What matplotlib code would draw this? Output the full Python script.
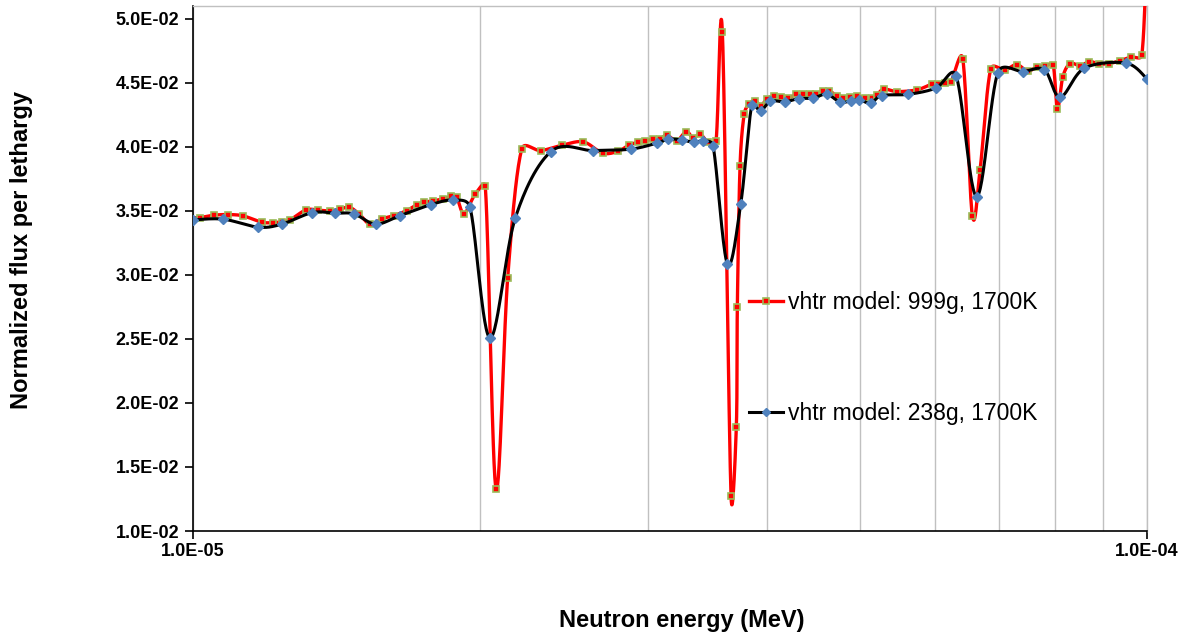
import numpy as np
import matplotlib
matplotlib.use("Agg")
import matplotlib.pyplot as plt
from matplotlib.lines import Line2D
from matplotlib.ticker import FixedLocator, LogLocator, NullFormatter, FuncFormatter

# energies in units of 1e-5 MeV, flux per lethargy
e_999 = [1.0000, 1.0170, 1.0520, 1.0889, 1.1289, 1.1802, 1.2139, 1.2388, 1.2639, 1.3137, 1.3533,
         1.3920, 1.4260, 1.4583, 1.4939, 1.5329, 1.5769, 1.6245, 1.6749, 1.7159, 1.7464,
         1.7848, 1.8284, 1.8662, 1.8898, 1.9234, 1.9752, 2.0248, 2.0778, 2.1374, 2.2108,
         2.3146, 2.4349, 2.5652, 2.6881, 2.7913, 2.8664, 2.9258, 2.9792, 3.0351, 3.0905,
         3.1394, 3.2137, 3.2891, 3.3451, 3.4000, 3.4621, 3.5339, 3.5880, 3.6642, 3.7114,
         3.7204, 3.7447, 3.7829, 3.8288, 3.8828, 3.9376, 3.9939, 4.0620, 4.1342, 4.2073,
         4.2862, 4.3624, 4.4336, 4.4982, 4.5715, 4.6449, 4.7287, 4.8047, 4.8830, 4.9626,
         5.0630, 5.1456, 5.2080, 5.3006, 5.4698, 5.7405, 5.9478, 6.0434, 6.1419, 6.2313,
         6.4097, 6.5602, 6.6834, 6.8583, 7.1000, 7.3033, 7.4964, 7.6759, 7.8259, 7.9726,
         8.0557, 8.1614, 8.3064, 8.5094, 8.7025, 8.9087, 9.1327, 9.3787, 9.6165, 9.8753,
         10.000]
f_999 = [0.034453, 0.034477, 0.034664, 0.034711, 0.034609, 0.034117, 0.034086, 0.034141, 0.034297, 0.035078, 0.035055,
         0.035000, 0.035133, 0.035289, 0.034742, 0.033961, 0.034375, 0.034633, 0.035023, 0.035469, 0.035680,
         0.035781, 0.035938, 0.036133, 0.036070, 0.034789, 0.036289, 0.036938, 0.013281, 0.029789, 0.039820,
         0.039711, 0.040117, 0.040391, 0.039508, 0.039664, 0.040156, 0.040352, 0.040484, 0.040586, 0.040641,
         0.040922, 0.040469, 0.041195, 0.040664, 0.041016, 0.040391, 0.040469, 0.049008, 0.012758, 0.018148,
         0.027523, 0.038539, 0.042578, 0.043359, 0.043617, 0.043203, 0.043750, 0.043984, 0.043906, 0.043789,
         0.044117, 0.044117, 0.044141, 0.044141, 0.044375, 0.044375, 0.043984, 0.043805, 0.043930, 0.044008,
         0.043805, 0.043805, 0.044063, 0.044508, 0.044320, 0.044453, 0.044898, 0.044922, 0.045023, 0.045102,
         0.046891, 0.034633, 0.038203, 0.046094, 0.046016, 0.046430, 0.045914, 0.046273, 0.046305, 0.046406,
         0.042992, 0.045469, 0.046508, 0.046328, 0.046664, 0.046484, 0.046508, 0.046742, 0.047008, 0.047164,
         0.056000]

e_238 = [1.0000, 1.0759, 1.1706, 1.2388, 1.3339, 1.4089, 1.4749, 1.5539, 1.6482, 1.7758,
         1.8744, 1.9515, 2.0479, 2.1770, 2.3727, 2.6278, 2.8761, 3.0623, 3.1493, 3.2527,
         3.3492, 3.4222, 3.5083, 3.6316, 3.7510, 3.8520, 3.9366, 4.0288, 4.1710, 4.3173,
         4.4626, 4.6159, 4.7665, 4.8913, 4.9939, 5.1332, 5.2712, 5.6214, 6.0055, 6.3071,
         6.6303, 6.9779, 7.4131, 7.8070, 8.1084, 8.5981, 9.5087, 10.000]
f_238 = [0.034297, 0.034352, 0.033727, 0.033961, 0.034867, 0.034820, 0.034766, 0.033961, 0.034633, 0.035492,
         0.035852, 0.035273, 0.025078, 0.034453, 0.039633, 0.039711, 0.039820, 0.040289, 0.040602, 0.040547,
         0.040352, 0.040469, 0.040102, 0.030859, 0.035547, 0.043242, 0.042813, 0.043578, 0.043516, 0.043773,
         0.043805, 0.044117, 0.043492, 0.043594, 0.043672, 0.043414, 0.044008, 0.044102, 0.044586, 0.045570,
         0.036117, 0.045805, 0.045883, 0.046016, 0.043883, 0.046148, 0.046539, 0.045313]

label_999 = "vhtr model: 999g, 1700K"
label_238 = "vhtr model: 238g, 1700K"
y_ticks = [0.010, 0.015, 0.020, 0.025, 0.030, 0.035, 0.040, 0.045, 0.050]

# screen scale used for the smoothing (pixels per decade / per unit flux)
SX, SY = 954.0, 12800.0


def smooth(x, y, n=30):
    """Excel-like smoothed line: Bezier through the points, control arms = 1/6 of the
    neighbour chord, clamped to half the segment length (screen space)."""
    px = np.log10(np.asarray(x, float)) * SX
    py = np.asarray(y, float) * SY
    P = np.column_stack([px, py])
    P = np.vstack([P[0], P, P[-1]])
    t = np.linspace(0, 1, n)[:, None]
    out = []
    for i in range(1, len(P) - 2):
        p0, p3 = P[i], P[i + 1]
        seg = np.hypot(*(p3 - p0))
        a1 = (P[i + 1] - P[i - 1]) / 6
        a2 = (P[i + 2] - P[i]) / 6
        for a in (a1, a2):
            m = np.hypot(*a)
            if m > seg / 2 and m > 0:
                a *= (seg / 2) / m
        c1, c2 = p0 + a1, p3 - a2
        b = (1 - t) ** 3 * p0 + 3 * (1 - t) ** 2 * t * c1 + 3 * (1 - t) * t ** 2 * c2 + t ** 3 * p3
        out.append(b)
    b = np.vstack(out)
    return 10 ** (b[:, 0] / SX), b[:, 1] / SY


plt.rcParams["font.family"] = ["Liberation Sans", "DejaVu Sans"]

fig = plt.figure(figsize=(11.94, 6.36), dpi=100)
ax = fig.add_axes([193 / 1194, 1 - 531 / 636, (1147 - 193) / 1194, (531 - 6) / 636])

E999 = np.array(e_999) * 1e-5
E238 = np.array(e_238) * 1e-5

red = "#ff0000"
sx, sy = smooth(E999, f_999)
ax.plot(sx, sy, color=red, lw=2.4, zorder=3)
ax.plot(E999[1:], f_999[1:], ls="none", marker="s", ms=5, mfc=red, mec="#9bbb59", mew=1.2, zorder=4)

bx, by = smooth(E238, f_238)
ax.plot(bx, by, color="black", lw=2.2, zorder=5)
ax.plot(E238, f_238, ls="none", marker="D", ms=5, mfc="#4f81bd", mec="#4f81bd", zorder=6)

ax.set_xscale("log")
ax.set_xlim(1e-5, 1e-4)
ax.set_ylim(0.010, 0.051)

ax.xaxis.set_major_locator(FixedLocator([1e-5, 1e-4]))
ax.xaxis.set_minor_locator(LogLocator(base=10, subs=np.arange(2, 10)))
ax.xaxis.set_minor_formatter(NullFormatter())
ax.xaxis.set_major_formatter(FuncFormatter(lambda v, p: f"{v:.1E}"))
ax.set_yticks(y_ticks)
ax.yaxis.set_major_formatter(FuncFormatter(lambda v, p: f"{v:.1E}"))

ax.grid(True, axis="x", which="both", color="#c0c0c0", lw=1.0)
ax.set_axisbelow(True)

for s in ("left", "bottom"):
    ax.spines[s].set_color("black")
    ax.spines[s].set_linewidth(1.2)
for s in ("top", "right"):
    ax.spines[s].set_color("#c0c0c0")
    ax.spines[s].set_linewidth(1.0)

ax.tick_params(axis="both", which="major", direction="out", length=6, width=1.2,
               labelsize=13, pad=4)
ax.tick_params(axis="x", which="major", pad=3)
ax.tick_params(axis="x", which="minor", length=0)
for lab in ax.get_xticklabels() + ax.get_yticklabels():
    lab.set_fontweight("bold")

fig.text(22 / 1194, 1 - 250 / 636, "Normalized flux per lethargy", rotation=90,
         fontsize=17, fontweight="bold", ha="center", va="center")
fig.text(682 / 1194, 1 - 620 / 636, "Neutron energy (MeV)",
         fontsize=17, fontweight="bold", ha="center", va="center")

h1 = Line2D([], [], color=red, lw=2.4, marker="s", ms=5, mfc=red, mec="#9bbb59", mew=1.2)
h2 = Line2D([], [], color="black", lw=2.2, marker="D", ms=4, mfc="#4f81bd", mec="#4f81bd")
ax.legend([h1, h2], [label_999, label_238], loc="center left",
          bbox_to_anchor=(0.583, 0.330), frameon=False, fontsize=16.5, numpoints=1,
          handlelength=1.48, handletextpad=0.22, labelspacing=3.86, borderpad=0, borderaxespad=0)

fig.savefig("out.png", dpi=100, facecolor="white")
